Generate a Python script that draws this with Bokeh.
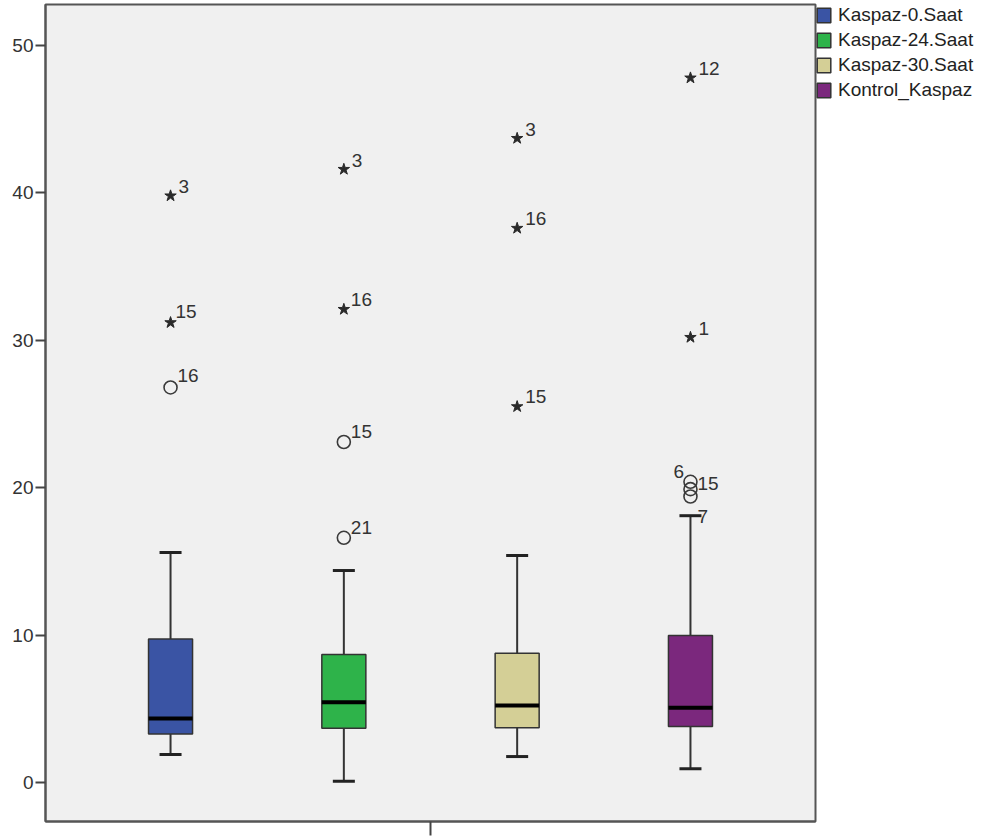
from bokeh.plotting import figure
from bokeh.models import Range1d, FixedTicker, Legend, LegendItem, ColumnDataSource
from bokeh.core.properties import value
from bokeh.embed import file_html
from bokeh.resources import INLINE

# ---- data ----
categories = ["Kaspaz-0.Saat", "Kaspaz-24.Saat", "Kaspaz-30.Saat", "Kontrol_Kaspaz"]
positions = [1, 2, 3, 4]
lower_whisker = [1.9, 0.09, 1.76, 0.93]
q1 = [3.29, 3.68, 3.71, 3.8]
median = [4.34, 5.45, 5.22, 5.07]
q3 = [9.74, 8.68, 8.77, 9.97]
upper_whisker = [15.6, 14.38, 15.4, 18.1]
colors = ["#3a54a4", "#2eb34a", "#d4cf96", "#7b287d"]

outlier_group = [1, 1, 1, 2, 2, 2, 2, 3, 3, 3, 4, 4, 4, 4, 4]
outlier_value = [26.8, 31.2, 39.8, 16.6, 23.1, 32.1, 41.6, 25.5, 37.6, 43.7, 19.4, 19.9, 20.4, 30.2, 47.8]
outlier_kind = ["o", "*", "*", "o", "o", "*", "*", "*", "*", "*", "o", "o", "o", "*", "*"]
outlier_label = ["16", "15", "3", "21", "15", "16", "3", "15", "16", "3", "7", "15", "6", "1", "12"]
# label placement offsets (pixels)
label_dx = [7, 5, 8, 7, 7, 7, 8, 8, 8, 8, 7, 7, -17, 8, 8]
label_dy = [-12, -11, -9, -10, -10, -10, -9, -10, -10, -9, 20, -6, -10, -9, -9]

FONT = "Liberation Sans"
box_w = 0.254
cap_w = 0.127

p = figure(frame_width=770, frame_height=817, output_backend="svg", toolbar_location=None,
           x_range=Range1d(0.2785, 4.7215), y_range=Range1d(-2.646, 52.78),
           min_border_left=45, min_border_right=0, min_border_top=4, min_border_bottom=17)

p.background_fill_color = "#f0f0f0"
p.border_fill_color = "white"
p.outline_line_color = "#555555"
p.outline_line_width = 2
p.xgrid.visible = False
p.ygrid.visible = False

# y axis
p.yaxis.ticker = FixedTicker(ticks=[0, 10, 20, 30, 40, 50])
p.yaxis.axis_line_color = "#555555"
p.yaxis.axis_line_width = 2
p.yaxis.major_tick_out = 10
p.yaxis.major_tick_in = 0
p.yaxis.major_tick_line_color = "#444444"
p.yaxis.major_tick_line_width = 2
p.yaxis.minor_tick_line_color = None
p.yaxis.major_label_standoff = 2
p.yaxis.major_label_text_font = FONT
p.yaxis.major_label_text_font_size = "19px"
p.yaxis.major_label_text_color = "#333333"

# x axis: single centre tick, no label
p.xaxis.ticker = FixedTicker(ticks=[2.5])
p.xaxis.major_label_overrides = {2.5: ""}
p.xaxis.axis_line_color = "#555555"
p.xaxis.axis_line_width = 2
p.xaxis.major_tick_out = 14
p.xaxis.major_tick_in = 0
p.xaxis.major_tick_line_color = "#444444"
p.xaxis.major_tick_line_width = 2
p.xaxis.minor_tick_line_color = None
p.xaxis.major_label_text_font_size = "10px"
p.xaxis.major_label_standoff = -12

src = ColumnDataSource(dict(
    x=positions,
    left=[x - box_w / 2 for x in positions],
    right=[x + box_w / 2 for x in positions],
    cl=[x - cap_w / 2 for x in positions],
    cr=[x + cap_w / 2 for x in positions],
    lw=lower_whisker, q1=q1, med=median, q3=q3, uw=upper_whisker, color=colors,
))

# whiskers
p.segment(x0="x", y0="q3", x1="x", y1="uw", source=src, line_color="#333333", line_width=2)
p.segment(x0="x", y0="lw", x1="x", y1="q1", source=src, line_color="#333333", line_width=2)
p.segment(x0="cl", y0="uw", x1="cr", y1="uw", source=src, line_color="#222222", line_width=3)
p.segment(x0="cl", y0="lw", x1="cr", y1="lw", source=src, line_color="#222222", line_width=3)

# boxes
boxes = p.quad(left="left", right="right", bottom="q1", top="q3", source=src,
               fill_color="color", line_color="#333333", line_width=1.5)
# median
p.segment(x0="left", y0="med", x1="right", y1="med", source=src, line_color="black", line_width=4)

# outliers
ox = [positions[g - 1] for g in outlier_group]
osrc_c = ColumnDataSource(dict(
    x=[x for x, k in zip(ox, outlier_kind) if k == "o"],
    y=[v for v, k in zip(outlier_value, outlier_kind) if k == "o"]))
osrc_s = ColumnDataSource(dict(
    x=[x for x, k in zip(ox, outlier_kind) if k == "*"],
    y=[v for v, k in zip(outlier_value, outlier_kind) if k == "*"]))
p.scatter(x="x", y="y", source=osrc_c, marker="circle", size=13,
          fill_color=None, line_color="#3a3a3a", line_width=1.6)
p.scatter(x="x", y="y", source=osrc_s, marker="star", size=12,
          fill_color="#2a2a2a", line_color="#2a2a2a", line_width=1)

lsrc = ColumnDataSource(dict(x=ox, y=outlier_value, text=outlier_label, dx=label_dx, dy=label_dy))
p.text(x="x", y="y", text="text", x_offset="dx", y_offset="dy", source=lsrc,
       text_font=value(FONT), text_font_size="19px", text_color="#333333",
       text_baseline="alphabetic", text_align="left")

# legend outside the frame, on the right
items = [LegendItem(label=c, renderers=[boxes], index=i) for i, c in enumerate(categories)]
legend = Legend(items=items, location="top_left", orientation="vertical",
                padding=5, margin=0, spacing=3, glyph_width=17, glyph_height=18,
                label_height=18, label_standoff=6,
                label_text_font=FONT, label_text_font_size="19px", label_text_color="#222222",
                border_line_color=None, background_fill_alpha=0)
p.add_layout(legend, "right")

open("out.html", "w").write(file_html(p, INLINE))
